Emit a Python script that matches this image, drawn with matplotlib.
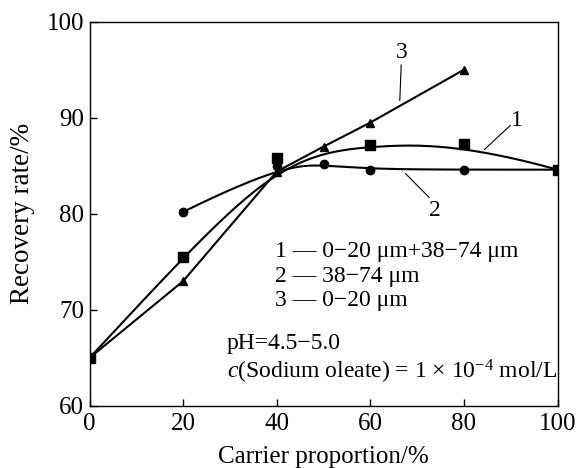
import numpy as np
import matplotlib
matplotlib.use("Agg")
import matplotlib.pyplot as plt

plt.rcParams['font.family'] = ['Liberation Serif', 'DejaVu Serif']
plt.rcParams['mathtext.fontset'] = 'custom'
plt.rcParams['mathtext.rm'] = 'Liberation Serif'
plt.rcParams['mathtext.it'] = 'Liberation Serif:italic'

# Data
x1 = [0, 20, 40, 60, 80, 100]
y1 = [65.0, 75.5, 85.8, 87.2, 87.3, 84.6]   # 1: 0-20 um + 38-74 um (squares)
x2 = [20, 40, 50, 60, 80, 100]
y2 = [80.2, 85.0, 85.15, 84.6, 84.6, 84.6]  # 2: 38-74 um (circles)
x3 = [0, 20, 40, 50, 60, 80]
y3 = [65.0, 73.0, 84.4, 87.0, 89.5, 95.0]   # 3: 0-20 um (triangles)

xticks = [0, 20, 40, 60, 80, 100]
yticks = [60, 70, 80, 90, 100]


def bspline_curve(xp, yp, n=400, k=3):
    """Clamped cubic B-spline using the data points as control points."""
    P = np.column_stack([xp, yp]).astype(float)
    m = len(P)
    inner = np.arange(1, m - k) / (m - k)
    knots = np.concatenate([np.zeros(k + 1), inner, np.ones(k + 1)])
    ts = np.linspace(0, 1, n)

    def basis(i, p, t):
        if p == 0:
            if knots[i] <= t < knots[i + 1] or (t == 1.0 and knots[i + 1] == 1.0 and knots[i] < 1.0):
                return 1.0
            return 0.0
        a = 0.0
        if knots[i + p] != knots[i]:
            a = (t - knots[i]) / (knots[i + p] - knots[i]) * basis(i, p - 1, t)
        b = 0.0
        if knots[i + p + 1] != knots[i + 1]:
            b = (knots[i + p + 1] - t) / (knots[i + p + 1] - knots[i + 1]) * basis(i + 1, p - 1, t)
        return a + b

    pts = np.array([sum(basis(i, k, t) * P[i] for i in range(m)) for t in ts])
    return pts[:, 0], pts[:, 1]


fig = plt.figure(figsize=(5.76, 4.68), dpi=100)
ax = fig.add_axes([0.1554, 0.1325, 0.8125, 0.8211])

lw = 1.5
c1x, c1y = bspline_curve(x1, y1)
c2x, c2y = bspline_curve(x2, y2)
ax.plot(c1x, c1y, color='black', lw=lw, zorder=2)
ax.plot(c2x, c2y, color='black', lw=lw, zorder=2)
ax.plot(x3, y3, color='black', lw=lw, zorder=2)

ax.plot(x2, y2, 'o', color='black', ms=6, ls='none', zorder=3)
ax.plot(x3, y3, '^', color='black', ms=6, ls='none', zorder=3)
ax.plot(x1, y1, 's', color='black', ms=6.5, ls='none', zorder=4)

# curve labels with leader lines
fs_lab = 17
ax.text(66.8, 96.8, '3', fontsize=fs_lab, ha='center', va='center')
ax.plot([66.6, 66.3], [95.5, 91.8], color='black', lw=0.8)
ax.text(91.4, 89.7, '1', fontsize=fs_lab, ha='center', va='center')
ax.plot([89.9, 84.4], [89.2, 86.7], color='black', lw=0.8)
ax.text(73.8, 80.3, '2', fontsize=fs_lab, ha='center', va='center')
ax.plot([72.6, 67.5], [81.7, 84.2], color='black', lw=0.8)

fs_leg = 17
ax.text(39.6, 76.06, '1 — 0−20 μm+38−74 μm', fontsize=fs_leg, ha='left', va='center')
ax.text(39.6, 73.45, '2 — 38−74 μm', fontsize=fs_leg, ha='left', va='center')
ax.text(39.6, 71.03, '3 — 0−20 μm', fontsize=fs_leg, ha='left', va='center')
ax.text(29.3, 66.5, 'pH=4.5−5.0', fontsize=fs_leg, ha='left', va='center')
ax.text(29.3, 63.5, r'$c$(Sodium oleate) = 1 × 10$^{-4}$ mol/L', fontsize=fs_leg,
        ha='left', va='center')

ax.set_xlim(0, 100)
ax.set_ylim(60, 100)
ax.set_xticks(xticks)
ax.set_yticks(yticks)
ax.tick_params(direction='in', length=5, width=1, labelsize=18, top=False, right=False)
ax.tick_params(axis='x', pad=5)
ax.tick_params(axis='y', pad=4)
for s in ax.spines.values():
    s.set_linewidth(1.0)

ax.set_xlabel('Carrier proportion/%', fontsize=18, labelpad=8)
ax.set_ylabel('Recovery rate/%', fontsize=19.5, labelpad=8)

fig.savefig('out.png', dpi=100)
